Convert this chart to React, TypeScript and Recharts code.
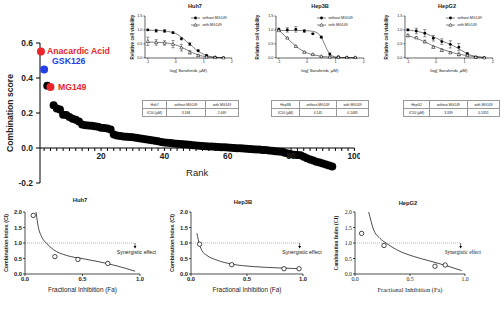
import React from 'react';
import {
  ComposedChart,
  ScatterChart,
  Scatter,
  Line,
  XAxis,
  YAxis,
  Label,
  Legend,
  ErrorBar,
  ReferenceLine,
  ReferenceDot,
} from 'recharts';

const FONT = 'Arial, "Liberation Sans", Helvetica, sans-serif';
const SERIF = '"Liberation Serif", "Times New Roman", serif';
const RED = '#e8262b';
const BLUE = '#2440e6';

// ranked combination scores (rank = index + 1)
const SCORES = [
  0.552, 0.448, 0.356, 0.349, 0.244, 0.226, 0.22, 0.19, 0.188, 0.177,
  0.167, 0.162, 0.152, 0.135, 0.13, 0.128, 0.127, 0.125, 0.121, 0.116,
  0.114, 0.112, 0.106, 0.077, 0.072, 0.069, 0.066, 0.064, 0.063, 0.061,
  0.058, 0.056, 0.053, 0.05, 0.047, 0.044, 0.041, 0.038, 0.035, 0.032,
  0.03, 0.028, 0.026, 0.025, 0.023, 0.021, 0.02, 0.018, 0.016, 0.015,
  0.013, 0.012, 0.01, 0.009, 0.008, 0.007, 0.006, 0.005, 0.004, 0.003,
  0.001, 0.0, -0.001, -0.002, -0.003, -0.004, -0.005, -0.007, -0.008, -0.009,
  -0.011, -0.012, -0.014, -0.016, -0.018, -0.02, -0.022, -0.027, -0.031, -0.035,
  -0.038, -0.04, -0.042, -0.05, -0.058, -0.065, -0.072, -0.078, -0.083, -0.088,
  -0.094, -0.1, -0.106,
];
const HIGHLIGHT_RANKS = [1, 2, 4];
const HIGHLIGHT_NAMES = ['Anacardic Acid', 'GSK126', 'MG149'];
const HIGHLIGHT_COLORS = [RED, BLUE, RED];
const SCORE_TICKS = [-0.2, 0, 0.2, 0.4, 0.6];
const RANK_TICKS = Array.from({ length: 50 }, (_, i) => (i + 1) * 2);

// dose response (log Sorafenib, uM)
const LOG_DOSE = [-1, -0.7, -0.4, -0.1, 0.2, 0.5, 0.8, 1.1, 1.4, 1.7];
const FIT_DOSE = [-1, -0.8, -0.6, -0.4, -0.2, 0, 0.2, 0.4, 0.5, 0.6, 0.7, 0.8, 0.9, 1.0, 1.2, 1.4, 1.7];
const SERIES_NAMES = ['without MG149', 'with MG149'];

const HUH7_WITHOUT = [1.0, 0.97, 0.96, 0.9, 0.68, 0.49, 0.25, 0.08, 0.02, 0.0];
const HUH7_WITHOUT_ERR = [0.02, 0.05, 0.05, 0.03, 0.04, 0.05, 0.03, 0.02, 0.01, 0.01];
const HUH7_WITH = [0.59, 0.55, 0.53, 0.49, 0.36, 0.19, 0.08, 0.03, 0.01, 0.0];
const HUH7_WITH_ERR = [0.15, 0.1, 0.08, 0.13, 0.12, 0.06, 0.03, 0.02, 0.01, 0.01];
const HUH7_FIT_WITHOUT = [0.99, 0.985, 0.98, 0.96, 0.93, 0.87, 0.74, 0.57, 0.49, 0.4, 0.31, 0.23, 0.17, 0.12, 0.05, 0.02, 0.005];
const HUH7_FIT_WITH = [0.56, 0.56, 0.55, 0.54, 0.51, 0.46, 0.38, 0.28, 0.23, 0.18, 0.14, 0.1, 0.07, 0.05, 0.02, 0.01, 0.0];
const HUH7_IC50 = ['3.168', '2.469'];

const HEP3B_WITHOUT = [1.02, 1.0, 1.02, 0.96, 0.86, 0.74, 0.13, 0.03, 0.01, 0.0];
const HEP3B_WITHOUT_ERR = [0.05, 0.08, 0.1, 0.05, 0.02, 0.04, 0.04, 0.02, 0.01, 0.01];
const HEP3B_WITH = [0.98, 0.71, 0.41, 0.2, 0.12, 0.05, 0.03, 0.02, 0.01, 0.01];
const HEP3B_WITH_ERR = [0.02, 0.02, 0.02, 0.02, 0.02, 0.01, 0.01, 0.01, 0.01, 0.01];
const HEP3B_FIT_WITHOUT = [0.98, 0.98, 0.98, 0.98, 0.975, 0.97, 0.95, 0.86, 0.74, 0.52, 0.3, 0.14, 0.06, 0.025, 0.005, 0.0, 0.0];
const HEP3B_FIT_WITH = [1.0, 0.8, 0.6, 0.42, 0.27, 0.17, 0.11, 0.07, 0.05, 0.04, 0.03, 0.025, 0.02, 0.015, 0.01, 0.005, 0.0];
const HEP3B_IC50 = ['4.145', '0.1485'];

const HEPG2_WITHOUT = [1.0, 0.96, 0.88, 0.7, 0.58, 0.48, 0.38, 0.15, 0.02, 0.0];
const HEPG2_WITHOUT_ERR = [0.03, 0.1, 0.13, 0.1, 0.1, 0.13, 0.13, 0.03, 0.02, 0.01];
const HEPG2_WITH = [0.8, 0.72, 0.58, 0.38, 0.27, 0.18, 0.12, 0.08, 0.02, 0.0];
const HEPG2_WITH_ERR = [0.05, 0.03, 0.05, 0.03, 0.04, 0.03, 0.05, 0.03, 0.01, 0.01];
const HEPG2_FIT_WITHOUT = [1.0, 0.97, 0.93, 0.88, 0.8, 0.71, 0.6, 0.52, 0.48, 0.43, 0.38, 0.32, 0.26, 0.2, 0.1, 0.05, 0.01];
const HEPG2_FIT_WITH = [0.8, 0.73, 0.66, 0.57, 0.47, 0.39, 0.31, 0.24, 0.21, 0.18, 0.15, 0.13, 0.11, 0.09, 0.06, 0.03, 0.01];
const HEPG2_IC50 = ['3.339', '0.5351'];

// combination index vs fraction affected
const HUH7_FA = [0.072, 0.26, 0.46, 0.72];
const HUH7_CI = [1.89, 0.56, 0.47, 0.34];
const HUH7_CURVE_FA = [0.096, 0.116, 0.145, 0.19, 0.246, 0.36, 0.51, 0.65, 0.8, 0.957];
const HUH7_CURVE_CI = [2.0, 1.51, 1.2, 0.98, 0.79, 0.6, 0.49, 0.39, 0.26, 0.09];

const HEP3B_FA = [0.077, 0.364, 0.83, 0.965];
const HEP3B_CI = [0.96, 0.3, 0.17, 0.17];
const HEP3B_CURVE_FA = [0.053, 0.077, 0.098, 0.142, 0.23, 0.364, 0.556, 0.76, 0.97];
const HEP3B_CURVE_CI = [1.31, 0.94, 0.75, 0.6, 0.45, 0.32, 0.24, 0.2, 0.17];

const HEPG2_FA = [0.06, 0.264, 0.727, 0.82];
const HEPG2_CI = [1.31, 0.92, 0.25, 0.29];
const HEPG2_CURVE_FA = [0.125, 0.167, 0.227, 0.29, 0.38, 0.53, 0.68, 0.83, 0.97];
const HEPG2_CURVE_CI = [2.0, 1.45, 1.15, 0.98, 0.78, 0.57, 0.42, 0.27, 0.11];

// layout only
const LABEL_DX = [6, 8, 7.5];
const LABEL_DY = [0, -9, 0];

const DOSE_PANELS = [
  {
    title: 'Huh7', without: HUH7_WITHOUT, withoutErr: HUH7_WITHOUT_ERR, withMg: HUH7_WITH, withErr: HUH7_WITH_ERR,
    fitWithout: HUH7_FIT_WITHOUT, fitWith: HUH7_FIT_WITH, ic50: HUH7_IC50,
    plotLeft: 145.2, plotRight: 232, titleX: 195, yLabelOffset: 9.5, legendX: 191, tableLeft: 142, cols: [23, 38, 32],
  },
  {
    title: 'Hep3B', without: HEP3B_WITHOUT, withoutErr: HEP3B_WITHOUT_ERR, withMg: HEP3B_WITH, withErr: HEP3B_WITH_ERR,
    fitWithout: HEP3B_FIT_WITHOUT, fitWith: HEP3B_FIT_WITH, ic50: HEP3B_IC50,
    plotLeft: 275.5, plotRight: 363.3, titleX: 320, yLabelOffset: 3, legendX: 317, tableLeft: 271, cols: [27, 36, 31],
  },
  {
    title: 'HepG2', without: HEPG2_WITHOUT, withoutErr: HEPG2_WITHOUT_ERR, withMg: HEPG2_WITH, withErr: HEPG2_WITH_ERR,
    fitWithout: HEPG2_FIT_WITHOUT, fitWith: HEPG2_FIT_WITH, ic50: HEPG2_IC50,
    plotLeft: 405.2, plotRight: 493, titleX: 447, yLabelOffset: 3, legendX: 446, tableLeft: 403, cols: [25, 37, 31],
  },
];

const CI_PANELS = [
  {
    title: 'Huh7', fa: HUH7_FA, ci: HUH7_CI, curveFa: HUH7_CURVE_FA, curveCi: HUH7_CURVE_CI,
    plotLeft: 25, plotRight: 140, titleX: 80, titleY: 200, arrowFa: 0.957, textFa: 0.97, serif: false,
  },
  {
    title: 'Hep3B', fa: HEP3B_FA, ci: HEP3B_CI, curveFa: HEP3B_CURVE_FA, curveCi: HEP3B_CURVE_CI,
    plotLeft: 191, plotRight: 303, titleX: 243, titleY: 202, arrowFa: 0.97, textFa: 0.99, serif: false,
  },
  {
    title: 'HepG2', fa: HEPG2_FA, ci: HEPG2_CI, curveFa: HEPG2_CURVE_FA, curveCi: HEPG2_CURVE_CI,
    plotLeft: 355, plotRight: 465, titleX: 408, titleY: 203, arrowFa: 0.96, textFa: 0.98, serif: true,
  },
];

function RankDot(props: any) {
  const { cx, cy, payload } = props;
  const k = HIGHLIGHT_RANKS.indexOf(payload.rank);
  if (k < 0) return <circle cx={cx} cy={cy} r={4} fill="#000" />;
  return (
    <g>
      <circle cx={cx} cy={cy} r={4} fill={HIGHLIGHT_COLORS[k]} />
      <text
        x={cx + LABEL_DX[k]}
        y={cy + LABEL_DY[k]}
        dy="0.35em"
        fill={HIGHLIGHT_COLORS[k]}
        fontSize={8.7}
        fontWeight={700}
        fontFamily={FONT}
      >
        {HIGHLIGHT_NAMES[k]}
      </text>
    </g>
  );
}

function RankChart() {
  const data = SCORES.map((score, i) => ({ rank: i + 1, score }));
  const tickStyle = { fontSize: 8.4, fontWeight: 700, fill: '#222', fontFamily: FONT };
  return (
    <>
      <div style={{ position: 'absolute', left: 0, top: 0 }}>
        <ScatterChart width={360} height={190} margin={{ top: 43, right: 5.6, bottom: 7, left: 0 }}>
          <XAxis type="number" dataKey="rank" domain={[0.7, 100]} hide />
          <YAxis
            type="number"
            dataKey="score"
            domain={[-0.2, 0.6]}
            ticks={SCORE_TICKS}
            width={40}
            tickSize={4}
            tickMargin={3}
            stroke="#000"
            tick={tickStyle}
            tickFormatter={(v) => v.toFixed(1)}
          >
            <Label
              value="Combination score"
              angle={-90}
              position="insideLeft"
              offset={10}
              style={{ textAnchor: 'middle', fontSize: 8.6, fontWeight: 700, fill: '#222', fontFamily: FONT }}
            />
          </YAxis>
          <Scatter data={data} shape={RankDot} isAnimationActive={false} />
        </ScatterChart>
      </div>
      {/* x axis crosses at score = 0 */}
      <div style={{ position: 'absolute', left: 0, top: 0 }}>
        <ScatterChart width={360} height={182} margin={{ top: 43, right: 5.6, bottom: 0, left: 40 }}>
          <XAxis
            type="number"
            dataKey="rank"
            domain={[0.7, 100]}
            ticks={RANK_TICKS}
            interval={0}
            height={34}
            tickSize={3}
            tickMargin={2}
            stroke="#000"
            tick={tickStyle}
            tickFormatter={(v) => (v % 20 === 0 ? String(v) : '')}
          >
            <Label value="Rank" position="insideBottom" offset={6} style={{ fontSize: 9.5, fill: '#222', fontFamily: FONT }} />
          </XAxis>
          <YAxis type="number" dataKey="score" domain={[-0.2, 0]} hide allowDataOverflow />
          <Scatter data={data} shape={() => <g />} isAnimationActive={false} />
        </ScatterChart>
      </div>
    </>
  );
}

function FilledDot(props: any) {
  return <circle cx={props.cx} cy={props.cy} r={1.4} fill="#000" />;
}

function OpenTriangle(props: any) {
  const { cx, cy } = props;
  return (
    <polygon
      points={`${cx},${cy - 1.7} ${cx + 1.6},${cy + 1.2} ${cx - 1.6},${cy + 1.2}`}
      fill="#fff"
      stroke="#000"
      strokeWidth={0.5}
    />
  );
}

function DoseLegend(props: any) {
  const entries = (props.payload || [])
    .filter((e: any) => SERIES_NAMES.includes(e.value))
    .sort((a: any, b: any) => SERIES_NAMES.indexOf(a.value) - SERIES_NAMES.indexOf(b.value));
  return (
    <div style={{ fontFamily: FONT, fontSize: 3.6, lineHeight: '6.5px', color: '#222' }}>
      {entries.map((e: any) => (
        <div key={e.value} style={{ display: 'flex', alignItems: 'center', whiteSpace: 'nowrap', height: 6.5 }}>
          <svg width={10} height={6}>
            <line x1={0} y1={3} x2={9} y2={3} stroke="#000" strokeWidth={0.5} />
            {e.value === SERIES_NAMES[0] ? (
              <circle cx={4.5} cy={3} r={1.4} fill="#000" />
            ) : (
              <polygon points="4.5,1.3 6.2,4.2 2.8,4.2" fill="#fff" stroke="#000" strokeWidth={0.5} />
            )}
          </svg>
          <span style={{ marginLeft: 1.5 }}>{e.value}</span>
        </div>
      ))}
    </div>
  );
}

function DosePanel({ p }: { p: (typeof DOSE_PANELS)[number] }) {
  const yw = 22;
  const left = p.plotLeft - yw;
  const width = p.plotRight - left + 6;
  const pts = (vals: number[], errs: number[]) => LOG_DOSE.map((x, i) => ({ x, v: vals[i], err: errs[i] }));
  const fit = (vals: number[]) => FIT_DOSE.map((x, i) => ({ x, v: vals[i] }));
  const tick = { fontSize: 3.8, fill: '#222', fontFamily: FONT };
  const rows = [
    [p.title, 'without MG149', 'with MG149'],
    ['IC50 (μM)', p.ic50[0], p.ic50[1]],
  ];
  return (
    <>
      <div
        style={{
          position: 'absolute', left: p.titleX - 30, top: 3, width: 60, textAlign: 'center',
          fontSize: 5.6, lineHeight: '6px', fontWeight: 700, fontFamily: FONT, color: '#222',
        }}
      >
        {p.title}
      </div>
      <div style={{ position: 'absolute', left, top: 0 }}>
        <ComposedChart width={width} height={95} margin={{ top: 16, right: 6, bottom: 18.5, left: 0 }}>
          <XAxis
            type="number"
            dataKey="x"
            domain={[-1.1, 2]}
            ticks={[-1, 0, 1, 2]}
            height={18.5}
            tickSize={1.5}
            tickMargin={1}
            stroke="#000"
            strokeWidth={0.6}
            tick={tick}
          >
            <Label value="log[ Sorafenib, μM)" position="insideBottom" offset={4} style={{ fontSize: 4.4, fill: '#222', fontFamily: FONT }} />
          </XAxis>
          <YAxis
            type="number"
            dataKey="v"
            domain={[0, 1.5]}
            ticks={[0, 0.5, 1, 1.5]}
            width={yw}
            tickSize={1.5}
            tickMargin={1}
            stroke="#000"
            strokeWidth={0.6}
            tick={tick}
            tickFormatter={(v) => v.toFixed(1)}
          >
            <Label
              value="Relative cell viability"
              angle={-90}
              position="insideLeft"
              offset={p.yLabelOffset}
              style={{ textAnchor: 'middle', fontSize: 4.6, fontWeight: 700, fill: '#222', fontFamily: FONT }}
            />
          </YAxis>
          <Line data={fit(p.fitWithout)} dataKey="v" type="monotone" dot={false} legendType="none" stroke="#000" strokeWidth={0.5} isAnimationActive={false} />
          <Line data={fit(p.fitWith)} dataKey="v" type="monotone" dot={false} legendType="none" stroke="#000" strokeWidth={0.5} isAnimationActive={false} />
          <Scatter name={SERIES_NAMES[0]} data={pts(p.without, p.withoutErr)} dataKey="v" shape={FilledDot} isAnimationActive={false}>
            <ErrorBar dataKey="err" direction="y" width={1.6} stroke="#000" strokeWidth={0.4} />
          </Scatter>
          <Scatter name={SERIES_NAMES[1]} data={pts(p.withMg, p.withErr)} dataKey="v" shape={OpenTriangle} isAnimationActive={false}>
            <ErrorBar dataKey="err" direction="y" width={1.6} stroke="#000" strokeWidth={0.4} />
          </Scatter>
          <Legend
            layout="vertical"
            align="center"
            verticalAlign="middle"
            content={DoseLegend}
            wrapperStyle={{ left: p.legendX - left, top: 15, width: 60, height: 13 }}
          />
        </ComposedChart>
      </div>
      <table
        style={{
          position: 'absolute', left: p.tableLeft, top: 100, borderCollapse: 'collapse', tableLayout: 'fixed',
          fontFamily: FONT, fontSize: 3.4, color: '#222',
        }}
      >
        <tbody>
          {rows.map((r, i) => (
            <tr key={i}>
              {r.map((c, j) => (
                <td
                  key={j}
                  style={{
                    width: p.cols[j], height: 7, padding: 0, border: '0.6px solid #999',
                    textAlign: 'center', lineHeight: '6px', whiteSpace: 'nowrap', overflow: 'hidden',
                  }}
                >
                  {c}
                </td>
              ))}
            </tr>
          ))}
        </tbody>
      </table>
    </>
  );
}

function OpenCircle(props: any) {
  return <circle cx={props.cx} cy={props.cy} r={2.2} fill="#fff" stroke="#000" strokeWidth={0.7} />;
}

function ArrowHead(props: any) {
  const { cx, cy } = props;
  return <polygon points={`${cx - 1.4},${cy - 2.6} ${cx + 1.4},${cy - 2.6} ${cx},${cy}`} fill="#000" />;
}

function CIPanel({ p }: { p: (typeof CI_PANELS)[number] }) {
  const yw = 25;
  const left = p.plotLeft - yw;
  const width = p.plotRight - left + 25;
  const family = p.serif ? SERIF : FONT;
  const pts = p.fa.map((fa, i) => ({ fa, ci: p.ci[i] }));
  const curve = p.curveFa.map((fa, i) => ({ fa, ci: p.curveCi[i] }));
  const tick = { fontSize: 5.8, fill: '#222', fontFamily: family, fontWeight: p.serif ? 400 : 700 };
  return (
    <>
      <div
        style={{
          position: 'absolute', left: p.titleX - 30, top: p.titleY - 3, width: 60, textAlign: 'center',
          fontSize: 5.8, lineHeight: '6px', fontWeight: 700, fontFamily: FONT, color: '#222',
        }}
      >
        {p.title}
      </div>
      <div style={{ position: 'absolute', left, top: 205 }}>
        <ComposedChart width={width} height={121} margin={{ top: 7, right: 25, bottom: 26, left: 0 }}>
          <XAxis
            type="number"
            dataKey="fa"
            domain={[0, 1]}
            ticks={[0, 0.5, 1]}
            height={26}
            tickSize={2}
            tickMargin={1}
            stroke="#000"
            strokeWidth={0.7}
            tick={tick}
            tickFormatter={(v) => v.toFixed(1)}
          >
            <Label
              value="Fractional Inhibition (Fa)"
              position="insideBottom"
              offset={8}
              style={{ fontSize: 6.4, fill: '#222', fontFamily: family }}
            />
          </XAxis>
          <YAxis
            type="number"
            dataKey="ci"
            domain={[0, 2]}
            ticks={[0, 0.5, 1, 1.5, 2]}
            width={yw}
            tickSize={2}
            tickMargin={1}
            stroke="#000"
            strokeWidth={0.7}
            tick={tick}
            tickFormatter={(v) => v.toFixed(1)}
            allowDataOverflow
          >
            <Label
              value="Combination Index (CI)"
              angle={-90}
              position="insideLeft"
              offset={6}
              style={{ textAnchor: 'middle', fontSize: 5.3, fontWeight: 700, fill: '#222', fontFamily: family }}
            />
          </YAxis>
          <ReferenceLine segment={[{ x: 0, y: 1 }, { x: p.arrowFa, y: 1 }]} stroke="#999" strokeWidth={0.7} strokeDasharray="1 1" />
          <ReferenceLine segment={[{ x: p.arrowFa, y: 1 }, { x: p.arrowFa, y: 0.86 }]} stroke="#000" strokeWidth={0.6} />
          <ReferenceDot x={p.arrowFa} y={0.82} shape={ArrowHead} />
          <ReferenceDot
            x={p.textFa}
            y={0.69}
            shape={(props: any) => (
              <text x={props.cx} y={props.cy} dy="0.35em" textAnchor="middle" fontSize={5.2} fill="#222" fontFamily={family}>
                Synergistic effect
              </text>
            )}
          />
          <Line data={curve} dataKey="ci" type="monotone" dot={false} stroke="#000" strokeWidth={0.7} isAnimationActive={false} />
          <Scatter data={pts} dataKey="ci" shape={OpenCircle} isAnimationActive={false} />
        </ComposedChart>
      </div>
    </>
  );
}

export default function App() {
  return (
    <div
      style={{
        position: 'absolute', left: 0, top: 0, width: 504, height: 326, background: '#fff',
        overflow: 'hidden', fontFamily: FONT,
      }}
    >
      <RankChart />
      {DOSE_PANELS.map((p) => (
        <DosePanel key={p.title} p={p} />
      ))}
      {CI_PANELS.map((p) => (
        <CIPanel key={p.title} p={p} />
      ))}
    </div>
  );
}
